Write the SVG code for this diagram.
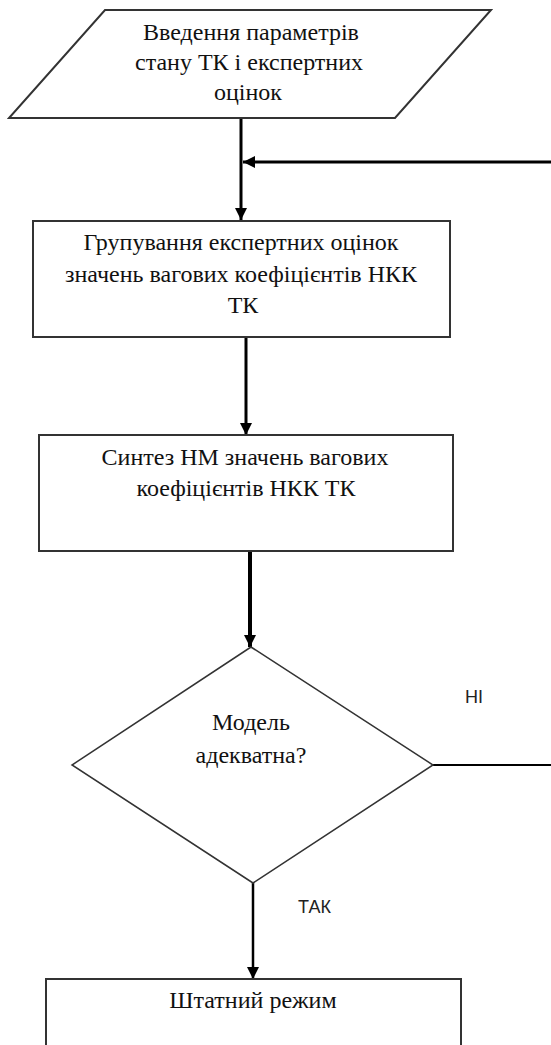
<svg xmlns="http://www.w3.org/2000/svg" width="551" height="1045" viewBox="0 0 551 1045">
<style>
.shape{fill:#fff;stroke:#333;stroke-width:2}
.dia{fill:#fff;stroke:#333;stroke-width:1.5}
.t{font-family:"Liberation Serif","Times New Roman",serif;font-size:24px;fill:#111;text-anchor:middle}
.lbl{font-family:"Liberation Sans",Arial,sans-serif;font-size:18px;fill:#222}
.c{fill:none;stroke:#000}
</style>
<defs>
<marker id="ah" viewBox="0 0 12 12" refX="12" refY="6" markerWidth="12" markerHeight="12" markerUnits="userSpaceOnUse" orient="auto">
<path d="M0,0 L12,6 L0,12 Z" fill="#000"/>
</marker>
</defs>
<rect width="551" height="1045" fill="#fff"/>
<g id="connectors">
<line class="c" x1="241" y1="118" x2="241" y2="220" stroke-width="3" marker-end="url(#ah)"/>
<line class="c" x1="551" y1="162" x2="243" y2="162" stroke-width="3" marker-end="url(#ah)"/>
<line class="c" x1="246" y1="337" x2="246" y2="435" stroke-width="3" marker-end="url(#ah)"/>
<line class="c" x1="250" y1="551" x2="250" y2="647" stroke-width="4" marker-end="url(#ah)"/>
<line class="c" x1="433" y1="765" x2="551" y2="765" stroke-width="2"/>
<line class="c" x1="253" y1="883" x2="253" y2="979" stroke-width="2.5" marker-end="url(#ah)"/>
<text class="lbl" x="465" y="703">НІ</text>
<text class="lbl" x="298" y="913">ТАК</text>
</g>
<g id="input">
<polygon class="shape" points="105,10 491,10 395,118 9,118"/>
<text class="t" x="251" y="40">Введення параметрів</text>
<text class="t" x="249" y="70">стану ТК і експертних</text>
<text class="t" x="248" y="100">оцінок</text>
</g>
<g id="grouping">
<rect class="shape" x="33" y="221" width="417" height="116"/>
<text class="t" x="241" y="250">Групування експертних оцінок</text>
<text class="t" x="241" y="282">значень вагових коефіцієнтів НКК</text>
<text class="t" x="243" y="313">ТК</text>
</g>
<g id="synthesis">
<rect class="shape" x="39" y="435" width="414" height="116"/>
<text class="t" x="245" y="465">Синтез НМ значень вагових</text>
<text class="t" x="246" y="496">коефіцієнтів НКК ТК</text>
</g>
<g id="decision">
<polygon class="dia" points="251,647 433,765 253,883 72,765"/>
<text class="t" x="251" y="730">Модель</text>
<text class="t" x="251" y="763">адекватна?</text>
</g>
<g id="normal">
<rect class="shape" x="46" y="979" width="415" height="80"/>
<text class="t" x="253" y="1008">Штатний режим</text>
</g>
</svg>
